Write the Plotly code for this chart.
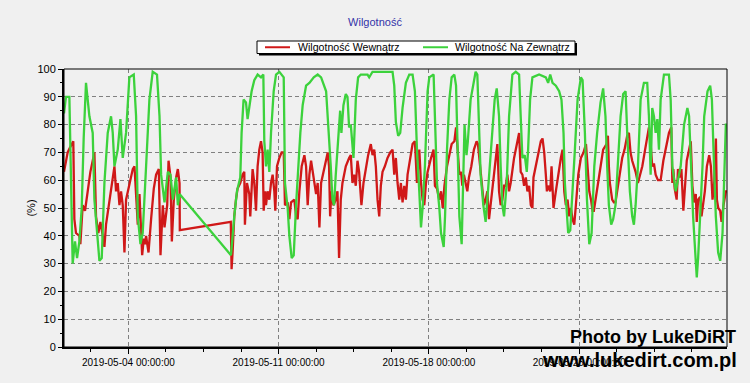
import pandas as pd
import plotly.graph_objects as go

start = "2019-05-01 00:00"

red_hours = [0,4.1,7.1,10.4,11.6,13.4,17.2,18.3,20.9,23.5,26.5,29.5,34,35.8,38.4,40.7,43.3,45.2,47,50.8,54.5,56.4,58.2,60.1,62,63.8,65.7,67.6,69.4,73.1,76.9,78.8,80.6,82.5,84.4,86.2,87.4,89.2,90.7,91.8,94.5,97.4,100.4,103,106,107.9,110.5,112.4,115.4,116.9,119.1,120.6,122.8,125.4,127.3,129.2,129.5,
             186.5,187.4,188.5,190.4,192.3,194.1,197.1,199.7,201.6,202.3,204.6,207.2,208.3,210.9,212.8,214.7,216.5,218.4,220.3,222.1,223.3,224.8,225.9,227.7,229.6,231.5,233.3,235.2,236.3,238.2,240.8,243.4,245.7,247.1,250.1,252,253.9,257.6,259.5,261.3,263.2,265.8,268.8,270.7,272.5,274.4,276.3,278.1,280,281.9,283.7,285.6,287.5,291.2,294.9,
             296.4,297.6,299,301.3,303.9,305.8,307.6,309.5,311.4,315.1,318.8,320.7,322.6,324.4,326.3,328.2,330,332.6,334.9,337.5,340.1,343.1,345,346.9,348.7,350.6,352.5,354.3,356.2,358.8,361.8,364.8,367.4,369.3,371.1,373,374.9,376.7,378.6,380.5,382.3,384.2,387.2,389.8,392.4,394.7,397.3,399.2,401,402.9,404.8,406.6,410.4,413.3,414.8,417.1,419.7,421.6,423.5,425.4,428.3,430.9,433.5,436.5,438.4,440.2,442.1,444,
             445.4,447.2,449.1,451,452.8,455.5,458.4,461.4,462.9,465.2,467.8,469.6,471.5,473.4,475.3,477.1,479,480.8,482.7,484.6,486.5,488.3,490.2,492.1,494,495.8,497.7,499.5,503.3,506.3,508.9,510.7,512.6,514.5,516.4,518.2,520.1,522,523.8,525,527.6,530.2,533.2,535.1,537,538.8,540,541.4,543.7,545.2,547.4,550,552.6,555.6,557.5,559.4,561.2,563.1,565,566.8,568.7,570.6,572.4,575.1,578,581,583.7,585.5,587.4,589.3,591.1,
             592.5,594.4,597,600,602.9,606.7,608.2,609.3,610.4,613,614.9,616.7,618.6,621.6,624.2,626.8,629.8,631.7,633.5,635.4,637.3,639.2,641.8,644,646.7,649.3,652.2,654.1,656,657.8,659.7,661.6,664.2,667.2,670.2,672.8,676.5,679.1,680.3,681.4,682.9,685.1,686.6,688.9,690.4,692.6,694.1,696.4,699,700.9,702.7,704.6,706.5,707.6,709.1,711.4,712.9,715.1,716.6,718.9,721.5,723.4,725.2,727.1,729,730.1,731.6,733.8,735.3,737.5,740.1,741.4]
red_vals = [63,70,72,74,46,41,40,37,51,49,56,63,70,47,41,45,40,36,44,53,62,65,56,59,51,56,51,34,53,59,64,65,53,44,55,38,33,39,37,40,34,46,57,62,64,33,51,43,51,67,61,38,53,61,64,59,42,
            45,28,34,47,53,57,59,62,63,44,59,55,47,64,59,49,65,71,74,70,49,56,51,56,53,59,62,56,49,65,68,70,70,51,52,46,52,53,47,46,56,65,69,65,51,62,67,63,58,55,59,43,59,65,70,
            65,47,56,51,53,56,32,53,59,65,68,69,59,62,58,67,63,51,59,64,69,73,69,71,65,53,47,58,63,65,68,70,71,62,68,59,53,59,52,58,53,62,68,73,74,59,71,59,53,51,59,63,68,71,58,57,53,56,50,58,65,69,73,74,79,71,62,63,
            58,62,59,56,61,65,71,74,73,65,56,51,53,56,46,51,56,63,68,73,56,51,53,58,58,62,56,59,68,73,77,63,62,58,61,56,58,51,50,61,65,70,74,75,70,62,56,58,56,65,50,56,62,68,71,56,51,53,47,50,46,44,51,62,68,70,73,63,56,53,49,
            49,53,59,65,71,73,76,65,59,53,52,52,56,62,68,71,76,77,70,67,65,63,59,62,65,70,76,79,73,65,66,62,60,60,67,71,77,79,59,64,57,53,64,61,64,49,58,67,71,74,58,52,55,45,53,54,47,53,56,65,69,65,53,59,75,53,50,49,45,51,56,56]

green_hours = [0,2.2,6,9.7,12.3,14.6,17.2,19.8,22,24.6,28.4,32.1,34,37,39.6,42.2,45.2,48.9,52.6,54.5,56.4,60.1,63.1,65.7,69.4,73.1,78,80.6,82.5,85.5,88,91.8,95.5,99.2,104,106.8,108.6,112.4,116.1,119.1,121.7,125.4,127.3,129.2,
               186.7,190.4,193.4,197.1,198.6,200.8,203.5,205.3,207.2,209.8,212.8,216.5,220.3,222.9,224,225.9,227.7,229.6,231.5,234.5,237.1,240.8,245.7,247.1,250.1,252,254.6,256.9,259.5,262.1,264.3,266.9,270.7,274.4,279.3,283.7,287.5,293.1,
               296.4,298.3,300.2,302,303.9,305.8,308.8,310.2,312.5,315.1,317,318.8,320.7,323.7,326.3,328.9,331.9,339.4,341.3,345,367.4,369.3,371.1,373.7,376,378.6,382.3,386.1,389.8,392.4,394.7,397.3,399.2,401,403.6,406.6,408.5,413.3,414.8,417.1,419.7,421.6,424.6,426.1,428.3,430.9,433.5,436.5,438.4,440.2,442.1,444.7,
               447.2,447.9,450.1,451.6,454.7,457.7,460.3,462.2,464,465.9,468.9,471.5,473.4,476.4,479,481.6,483.9,486.5,488.3,490.2,492.1,495.1,497.7,501.4,505.2,508.9,510.7,512.6,515.2,517.5,519,521.2,523.8,531.3,538.8,541.4,543.7,546.3,550,553.7,556.3,558.6,560.1,562.3,563.8,566.1,568.7,571.3,574.3,578,579.9,582.5,584.8,587.4,590,593,
               596.2,600,602.9,605.5,607.4,609.3,611.9,614.1,616.7,619.4,622.4,625.3,628,629.8,632.8,635.4,637.3,639.2,641.8,644.8,648.5,652.2,654.1,656,657.8,659.7,661.6,663.5,665.3,667.2,670.9,676.5,678.4,680.3,684,685.9,689.6,693.4,697.1,699,700.9,703.5,705.7,707.6,709.1,711.4,714,715.9,719.6,722.6,724.5,726.3,728.9,731.5,733.8,736.4,738.2,740.1,741.4]
green_vals = [84,90,90,30,38,32,38,50,75,95,83,77,53,41,31,32,59,77,83,77,65,71,82,68,77,97,98,83,47,37,41,65,89,99,98,83,62,52,63,62,53,61,51,55,
              33,47,56,61,77,89,88,82,86,92,96,98,97,98,74,65,71,63,77,92,98,99,97,59,50,40,32,33,51,68,77,87,94,95,97,98,97,92,
              77,65,53,51,62,71,85,77,87,91,90,79,80,68,89,97,98,98,97,99,99,94,81,76,77,86,95,98,98,92,71,56,43,50,65,92,97,98,83,59,50,41,36,47,71,89,97,98,94,65,47,37,
              71,80,69,74,89,94,99,98,77,62,51,45,53,65,77,89,93,83,65,51,47,59,83,98,99,98,83,68,69,63,71,89,97,98,97,95,98,95,94,92,89,77,59,50,41,42,59,71,89,97,96,77,53,37,41,65,
              77,88,93,83,65,51,44,46,51,65,83,91,92,77,56,47,44,51,65,89,95,95,83,62,86,83,77,82,71,89,98,98,89,65,56,59,65,80,86,83,65,47,35,25,32,47,65,83,92,94,89,71,47,34,31,41,65,80,80]

series_names = ["Wilgotność Wewnątrz", "Wilgotność Na Zewnątrz"]
series_colors = ["#d01818", "#3cd23c"]
y_ticks = list(range(0, 101, 10))

t0 = pd.Timestamp(start)
red_x = t0 + pd.to_timedelta(red_hours, unit="h")
green_x = t0 + pd.to_timedelta(green_hours, unit="h")
x_min = min(red_x.min(), green_x.min())
x_max = max(red_x.max(), green_x.max())

fig = go.Figure()
fig.add_trace(go.Scatter(x=red_x, y=red_vals, mode="lines", name=series_names[0],
                         line=dict(color=series_colors[0], width=2.3), showlegend=False))
fig.add_trace(go.Scatter(x=green_x, y=green_vals, mode="lines", name=series_names[1],
                         line=dict(color=series_colors[1], width=2.3), showlegend=False))

W, H = 750, 383
ML, MR, MT, MB = 64, 23, 69, 36
PW, PH = W - ML - MR, H - MT - MB


def px(xp):
    return (xp - ML) / PW


def py(yp):
    return (H - MB - yp) / PH


DAY = 86400000
fig.update_layout(
    width=W, height=H,
    margin=dict(l=ML, r=MR, t=MT, b=MB),
    paper_bgcolor="#f0f0f0", plot_bgcolor="#f0f0f0",
    font=dict(family="Liberation Sans, Arial, sans-serif", size=11, color="black"),
    title=dict(text="Wilgotność", x=0.5, xref="container", xanchor="center",
               y=1 - 22 / H, yref="container", yanchor="middle",
               font=dict(size=11, color="#3333a8")),
    showlegend=False,
    hovermode=False,
)
fig.update_xaxes(
    type="date", range=[x_min, x_max], automargin=False,
    tickformat="%Y-%m-%d %H:%M:%S", tick0="2019-05-04", dtick=7 * DAY,
    ticks="outside", ticklen=5, tickcolor="black", tickfont=dict(size=10),
    showgrid=True, gridcolor="#808080", gridwidth=1, griddash="4px,3px",
    showline=True, linecolor="black", linewidth=2, zeroline=False,
    minor=dict(tick0="2019-05-04", dtick=1.75 * DAY, ticks="outside", ticklen=3,
               tickcolor="black", showgrid=False),
)
fig.update_yaxes(
    range=[0, 100], tickvals=y_ticks, automargin=False,
    ticks="outside", ticklen=4, tickcolor="black", tickfont=dict(size=11),
    showgrid=True, gridcolor="#808080", gridwidth=1, griddash="4px,3px",
    showline=True, linecolor="black", linewidth=2, zeroline=False,
    minor=dict(dtick=5, ticks="outside", ticklen=2, tickcolor="black", showgrid=False),
    title=dict(text="(%)", standoff=0, font=dict(size=11)),
)
# plot frame (thin top/right)
fig.add_shape(type="rect", xref="paper", yref="paper", x0=0, x1=1, y0=0, y1=1,
              line=dict(color="black", width=1), layer="above")

# legend box with shadow
lx0, lx1, ly0, ly1 = 257, 575, 41, 53.5
fig.add_shape(type="rect", xref="paper", yref="paper",
              x0=px(lx0 + 2), x1=px(lx1 + 2), y0=py(ly1 + 2), y1=py(ly0 + 2),
              fillcolor="black", line=dict(width=0), layer="above")
fig.add_shape(type="rect", xref="paper", yref="paper",
              x0=px(lx0), x1=px(lx1), y0=py(ly1), y1=py(ly0),
              fillcolor="white", line=dict(color="black", width=1), layer="above")
legend_line_x = [(265, 290), (423, 448)]
legend_text_x = [296, 453]
ly_mid = (ly0 + ly1) / 2
for name, color, (a, b), tx in zip(series_names, series_colors, legend_line_x, legend_text_x):
    fig.add_shape(type="line", xref="paper", yref="paper", x0=px(a), x1=px(b),
                  y0=py(ly_mid), y1=py(ly_mid), line=dict(color=color, width=2), layer="above")
    fig.add_annotation(text=name, xref="paper", yref="paper", x=px(tx), y=py(ly_mid),
                       xanchor="left", yanchor="middle", showarrow=False,
                       font=dict(size=10.6, color="black"))

fig.add_annotation(text="<b>Photo by LukeDiRT</b>", xref="paper", yref="paper",
                   x=px(738), y=py(337), xanchor="right", yanchor="middle", showarrow=False,
                   font=dict(size=18, color="black", family="Liberation Sans, Arial"))
fig.add_annotation(text="<b>www.lukedirt.com.pl</b>", xref="paper", yref="paper",
                   x=px(739), y=py(360), xanchor="right", yanchor="middle", showarrow=False,
                   font=dict(size=20, color="black", family="Liberation Sans, Arial"))

fig.write_html("out.html", config={"displayModeBar": False},
               post_script="document.body.style.margin='0';document.body.style.background='#f0f0f0';")
